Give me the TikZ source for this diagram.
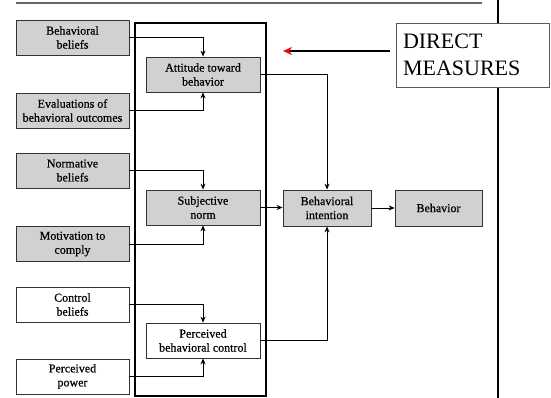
\documentclass[tikz,border=0pt]{standalone}
\usepackage{fontspec}
\setmainfont{Liberation Serif}
\newfontfamily\boxfont{Liberation Serif}[FakeBold=0.7]
\usetikzlibrary{arrows.meta}
\begin{document}
\begin{tikzpicture}[x=1pt,y=-1pt,
  box/.style={draw=black!80,line width=0.8pt,minimum height=35pt,inner sep=1pt,
    align=center,font=\boxfont\fontsize{12}{14}\selectfont},
  shaded/.style={box,fill=black!18},
  plain/.style={box,fill=white},
  leftbox/.style={minimum width=113pt},
  midbox/.style={minimum width=114pt},
  link/.style={line width=0.9pt,-{Stealth[length=6pt,width=5pt]}},
  every node/.append style={text=black}]
\useasboundingbox (0,0) rectangle (551,398);

% rules framing the figure
\draw[black!60,line width=1.3pt] (16,3) -- (482,3);
\draw[line width=1.4pt] (498,0) -- (498,398);

% thick frame around the direct predictors
\node[draw,line width=2.4pt,minimum width=131pt,minimum height=373pt,inner sep=0pt]
  (frame) at (200.5,209.5) {};

% belief boxes
\node[shaded,leftbox] (bb)  at (72.5,37.5)  {Behavioral\\beliefs};
\node[shaded,leftbox] (ev)  at (72.5,110.5) {Evaluations of\\behavioral outcomes};
\node[shaded,leftbox] (nb)  at (72.5,170.5) {Normative\\beliefs};
\node[shaded,leftbox] (mc)  at (72.5,244)   {Motivation to\\comply};
\node[plain,leftbox]  (cb)  at (72.5,304.5) {Control\\beliefs};
\node[plain,leftbox]  (pp)  at (72.5,376.5) {Perceived\\power};

% direct predictors
\node[shaded,midbox] (att) at (203,74.5)  {Attitude toward\\behavior};
\node[shaded,midbox] (sn)  at (203,207.5) {Subjective\\norm};
\node[plain,midbox]  (pbc) at (203,340.5) {Perceived\\behavioral control};

% intention and behaviour
\node[shaded,minimum width=88pt,minimum height=36pt] (bi)  at (327,208)   {Behavioral\\intention};
\node[shaded,minimum width=87pt,minimum height=36pt] (beh) at (438.5,208) {Behavior};

% label box
\node[draw=black!65,line width=0.7pt,fill=white,minimum width=153pt,minimum height=64pt,
  text width=139pt,align=left,inner sep=7pt,font=\fontsize{22}{27}\selectfont]
  (dm) at (472.5,55) {DIRECT\\MEASURES};
\coordinate (redtail) at (390,51);
\coordinate (redtip)  at (283,51);
\draw[line width=1.6pt,-{Stealth[length=9pt,width=8pt,color=red]}] (redtail) -- (redtip);

% belief links
\draw[link] (bb.east) -| (att.north);
\draw[link] (ev.east) -| (att.south);
\draw[link] (nb.east) -| (sn.north);
\draw[link] (mc.east) -| (sn.south);
\draw[link] (cb.east) -| (pbc.north);
\draw[link] (pp.east) -| (pbc.south);

% predictor links
\draw[link] (att.east) -| (bi.north);
\draw[link] (sn.east) -- (sn.east -| bi.west);
\draw[link] (pbc.east) -| (bi.south);
\draw[link] (bi.east) -- (beh.west);
\end{tikzpicture}
\end{document}
